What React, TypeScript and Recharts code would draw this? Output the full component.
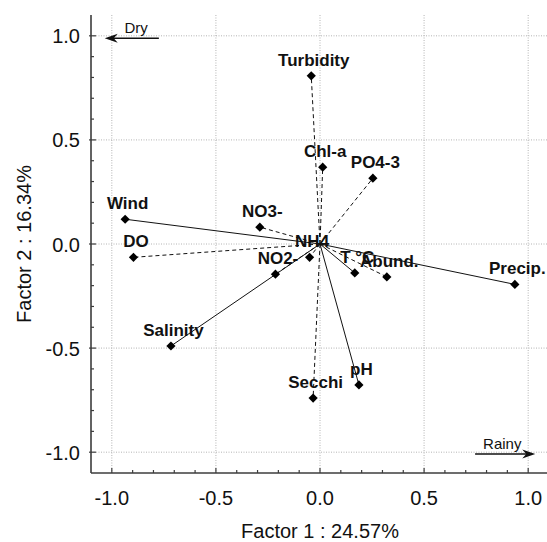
import React from 'react'
import {
  CartesianGrid,
  ReferenceLine,
  Scatter,
  ScatterChart,
  XAxis,
  YAxis,
} from 'recharts'

// PCA loadings (factor 1 / factor 2)
const variables = ['Turbidity', 'Chl-a', 'PO4-3', 'Wind', 'NO3-', 'DO', 'NH4', 'NO2-', 'T °C', 'Abund.', 'Precip.', 'Salinity', 'pH', 'Secchi']
const factor1 = [-0.042, 0.013, 0.254, -0.936, -0.289, -0.896, -0.05, -0.214, 0.167, 0.321, 0.936, -0.716, 0.187, -0.033]
const factor2 = [0.808, 0.369, 0.316, 0.119, 0.081, -0.064, -0.064, -0.145, -0.139, -0.158, -0.194, -0.49, -0.677, -0.74]
const dashedVector = [true, true, true, false, true, true, true, true, false, true, false, false, false, true]

const minorTicks = [-1.0, -0.9, -0.8, -0.7, -0.6, -0.5, -0.4, -0.3, -0.2, -0.1, 0, 0.1, 0.2, 0.3, 0.4, 0.5, 0.6, 0.7, 0.8, 0.9, 1.0]
const majorTicks = [-1.0, -0.5, 0, 0.5, 1.0]
const majorLabels = ['-1.0', '-0.5', '0.0', '0.5', '1.0']

// season arrows: tail -> head
const seasons = ['Dry', 'Rainy']
const seasonTailX = [-0.774, 0.745]
const seasonHeadX = [-1.034, 1.034]
const seasonY = [0.988, -1.009]

const FONT = "'Liberation Sans', Arial, sans-serif"
const NARROW = "'Liberation Sans Narrow', 'Arial Narrow', 'Liberation Sans', sans-serif"
const FRAME = '#3c3c3c'
const INK = '#111'

const points = variables.map((name, i) => ({ name, x: factor1[i], y: factor2[i] }))

function majorIndex(v: number) {
  return majorTicks.findIndex((t) => Math.abs(t - v) < 1e-6)
}

function BottomTick({ x, y, payload }: any) {
  const i = majorIndex(payload.value)
  return (
    <g>
      <line x1={x} x2={x} y1={y} y2={y - (i >= 0 ? 5 : 3)} stroke={FRAME} strokeWidth={1.2} />
      {i >= 0 && (
        <text x={x} y={y + 32} textAnchor="middle" fontSize={20} fontFamily={FONT} fill={INK}>
          {majorLabels[i]}
        </text>
      )}
    </g>
  )
}

function TopTick({ x, y, payload }: any) {
  const i = majorIndex(payload.value)
  return <line x1={x} x2={x} y1={y} y2={y + (i >= 0 ? 5 : 3)} stroke={FRAME} strokeWidth={1.2} />
}

function LeftTick({ x, y, payload }: any) {
  const i = majorIndex(payload.value)
  return (
    <g>
      <line x1={i >= 0 ? x - 2 : x} x2={x + (i >= 0 ? 5 : 3)} y1={y} y2={y} stroke={FRAME} strokeWidth={1.2} />
      {i >= 0 && (
        <text x={x - 11} y={y + 7.5} textAnchor="end" fontSize={20} fontFamily={FONT} fill={INK}>
          {majorLabels[i]}
        </text>
      )}
    </g>
  )
}

function RightTick({ x, y, payload }: any) {
  const i = majorIndex(payload.value)
  return <line x1={x} x2={x - (i >= 0 ? 5 : 3)} y1={y} y2={y} stroke={FRAME} strokeWidth={1.2} />
}

function Diamond({ cx, cy, payload }: any) {
  const r = 4.6
  return (
    <g>
      <polygon points={`${cx},${cy - r} ${cx + r},${cy} ${cx},${cy + r} ${cx - r},${cy}`} fill="#000" />
      <text x={cx + 2.5} y={cy - 10} textAnchor="middle" fontSize={17} fontWeight="bold" fontFamily={FONT} fill={INK}>
        {payload.name}
      </text>
    </g>
  )
}

function SeasonArrow(props: any) {
  const { x1, y1, x2, y2, text } = props
  const d = x2 > x1 ? 1 : -1
  return (
    <g>
      <line x1={x1} y1={y1} x2={x2 - d * 8} y2={y2} stroke={INK} strokeWidth={1.5} />
      <polygon
        points={`${x2},${y2} ${x2 - d * 13},${y2 - 4.5} ${x2 - d * 9},${y2} ${x2 - d * 13},${y2 + 4.5}`}
        fill={INK}
      />
      <text
        x={d > 0 ? x1 + 8 : x1 - 11}
        y={y1 - 5.5}
        textAnchor={d > 0 ? 'start' : 'end'}
        fontSize={15}
        fontFamily={NARROW}
        fill={INK}
      >
        {text}
      </text>
    </g>
  )
}

function YTitle({ viewBox }: any) {
  const cy = viewBox ? viewBox.y + viewBox.height / 2 : 244
  return (
    <text x={31} y={cy} transform={`rotate(-90, 31, ${cy})`} textAnchor="middle" fontSize={20} fontFamily={FONT} fill={INK}>
      Factor 2 : 16.34%
    </text>
  )
}

function XTitle({ viewBox }: any) {
  const cx = viewBox ? viewBox.x + viewBox.width / 2 : 320
  return (
    <text x={cx} y={538} textAnchor="middle" fontSize={20} fontFamily={FONT} fill={INK}>
      Factor 1 : 24.57%
    </text>
  )
}

export default function App() {
  return (
    <div style={{ position: 'absolute', left: 0, top: 0, width: 547, height: 542, overflow: 'hidden', background: '#fff' }}>
      <ScatterChart width={560} height={542} margin={{ top: 15, right: 11, bottom: 0, left: 0 }}>
        <CartesianGrid
          horizontalValues={majorTicks}
          verticalValues={majorTicks}
          stroke="#b4b4b4"
          strokeWidth={1}
          strokeDasharray="1 1.5"
        />
        <XAxis
          type="number"
          dataKey="x"
          domain={[-1.1, 1.1]}
          ticks={minorTicks}
          interval={0}
          height={69}
          tickSize={0}
          tickMargin={0}
          tickLine={false}
          tick={<BottomTick />}
          axisLine={{ stroke: FRAME, strokeWidth: 1.6 }}
          allowDataOverflow
          label={<XTitle />}
        />
        <XAxis
          xAxisId="top"
          orientation="top"
          type="number"
          domain={[-1.1, 1.1]}
          ticks={minorTicks}
          interval={0}
          height={0}
          tickSize={0}
          tickMargin={0}
          tickLine={false}
          tick={<TopTick />}
          axisLine={{ stroke: FRAME, strokeWidth: 1.6 }}
          allowDataOverflow
        />
        <YAxis
          type="number"
          dataKey="y"
          domain={[-1.1, 1.1]}
          ticks={minorTicks}
          interval={0}
          width={91}
          tickSize={0}
          tickMargin={0}
          tickLine={false}
          tick={<LeftTick />}
          axisLine={{ stroke: FRAME, strokeWidth: 1.6 }}
          allowDataOverflow
          label={<YTitle />}
        />
        <YAxis
          yAxisId="right"
          orientation="right"
          type="number"
          domain={[-1.1, 1.1]}
          ticks={minorTicks}
          interval={0}
          width={0}
          tickSize={0}
          tickMargin={0}
          tickLine={false}
          tick={<RightTick />}
          axisLine={{ stroke: FRAME, strokeWidth: 1.6 }}
          allowDataOverflow
        />
        {points.map((p, i) => (
          <ReferenceLine
            key={p.name}
            segment={[{ x: 0, y: 0 }, { x: p.x, y: p.y }]}
            stroke={INK}
            strokeWidth={1}
            strokeDasharray={dashedVector[i] ? '4 3' : undefined}
            ifOverflow="visible"
          />
        ))}
        {seasons.map((s, i) => (
          <ReferenceLine
            key={s}
            segment={[{ x: seasonTailX[i], y: seasonY[i] }, { x: seasonHeadX[i], y: seasonY[i] }]}
            ifOverflow="visible"
            shape={(props: any) => <SeasonArrow {...props} text={s} />}
          />
        ))}
        <Scatter data={points} shape={<Diamond />} isAnimationActive={false} />
      </ScatterChart>
    </div>
  )
}
